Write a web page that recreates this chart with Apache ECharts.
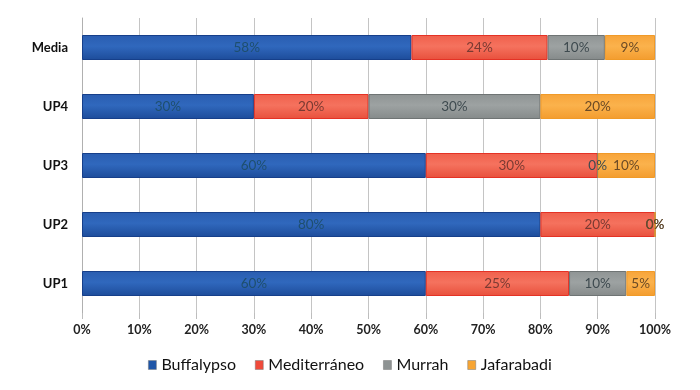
<!DOCTYPE html>
<html><head><meta charset="utf-8">
<script src="https://cdn.jsdelivr.net/npm/echarts@6/dist/echarts.min.js"></script>
<style>html,body{margin:0;padding:0;background:#fff}#c{width:700px;height:390px}</style>
</head><body><div id="c"></div>
<script>
var categories = ['UP1', 'UP2', 'UP3', 'UP4', 'Media'];
var buffalypso = [60, 80, 60, 30, 57.5];
var mediterraneo = [25, 20, 30, 20, 23.75];
var murrah = [10, 0, 0, 30, 10];
var jafarabadi = [5, 0, 10, 20, 8.75];
var seriesNames = ['Buffalypso', 'Mediterráneo', 'Murrah', 'Jafarabadi'];

var FONT = 'Lato, "Open Sans", sans-serif';
function grad(c1, c2, c3) {
  return new echarts.graphic.LinearGradient(0, 0, 0, 1, [
    {offset: 0, color: c1}, {offset: 0.45, color: c2}, {offset: 1, color: c3}]);
}
var styles = [
  {fill: grad('#2a5db0', '#3068bd', '#1d4c9a'), border: '#163f8a', label: '#1e4f6e'},
  {fill: grad('#f0604c', '#f5725e', '#e8503c'), border: '#e43225', label: '#7a3a32'},
  {fill: grad('#8f9494', '#9da2a2', '#858a8a'), border: '#6f7474', label: '#3e4a4f'},
  {fill: grad('#f7a43a', '#fbb24c', '#f39c2e'), border: '#f09a28', label: '#6b4a25'}
];
var datas = [buffalypso, mediterraneo, murrah, jafarabadi];
var legendColors = ['#1f56a8', '#f04a3a', '#8e9393', '#f7a533'];

var series = datas.map(function (d, i) {
  return {
    name: seriesNames[i], type: 'bar', stack: 'total', barWidth: 25,
    data: d,
    itemStyle: {color: styles[i].fill, borderColor: styles[i].border, borderWidth: 1},
    label: {show: true, position: 'inside', color: styles[i].label, fontSize: 13.5,
      fontFamily: FONT, formatter: function (p) { return Math.round(p.value) + '%'; }},
    emphasis: {disabled: true}
  };
});

var chart = echarts.init(document.getElementById('c'), null, {renderer: 'canvas'});
chart.setOption({
  animation: false,
  color: legendColors,
  grid: {left: 82, right: 45, top: 18, bottom: 77},
  legend: {
    bottom: 12, left: 'center', itemWidth: 8, itemHeight: 9, itemGap: 19,
    icon: 'rect',
    textStyle: {fontFamily: FONT, fontSize: 16, color: '#111', padding: [0, 0, 0, 0]},
    data: seriesNames.map(function (n, i) {
      return {name: n, itemStyle: {color: legendColors[i], borderColor: '#777', borderWidth: 0.5}};
    })
  },
  xAxis: {
    type: 'value', min: 0, max: 100, interval: 10,
    axisLine: {show: false},
    axisTick: {show: true, length: 6, lineStyle: {color: '#bdbdbd'}},
    splitLine: {show: true, lineStyle: {color: '#c4c4c4', width: 1}},
    axisLabel: {fontFamily: FONT, fontSize: 12.5, fontWeight: 'bold', color: '#222', margin: 10,
      formatter: function (v) { return v + '%'; }}
  },
  yAxis: {
    type: 'category', data: categories,
    axisLine: {show: true, lineStyle: {color: '#b0b0b0'}},
    axisTick: {show: false},
    axisLabel: {fontFamily: FONT, fontSize: 13, fontWeight: 'bold', color: '#111', margin: 14}
  },
  series: series
});
</script></body></html>
